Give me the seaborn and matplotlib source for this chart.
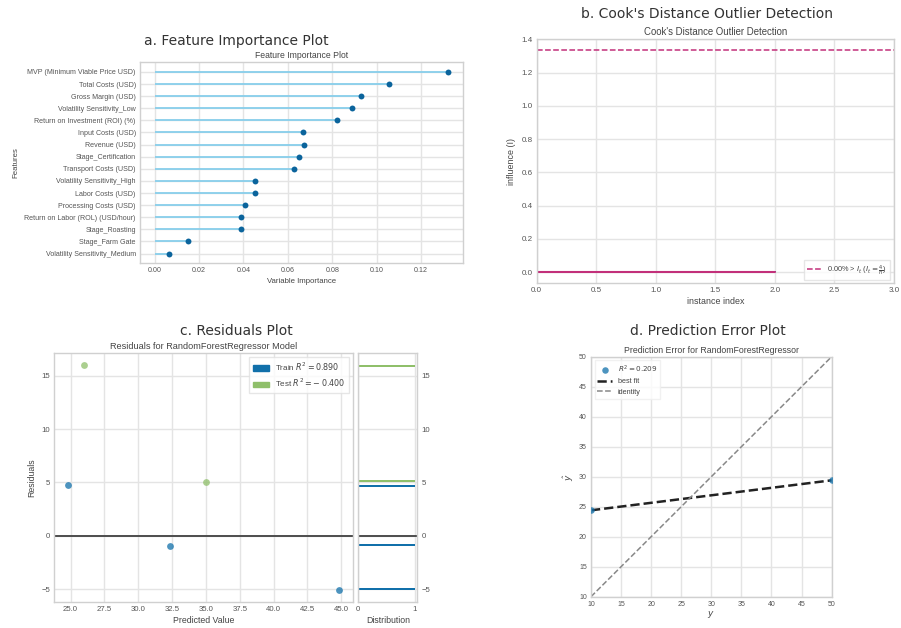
import numpy as np
import matplotlib
matplotlib.use("Agg")
import matplotlib.pyplot as plt
import matplotlib.patches as mpatches
import seaborn as sns

# ---- data -------------------------------------------------------------
features = [
    "MVP (Minimum Viable Price USD)", "Total Costs (USD)", "Gross Margin (USD)",
    "Volatility Sensitivity_Low", "Return on Investment (ROI) (%)", "Input Costs (USD)",
    "Revenue (USD)", "Stage_Certification", "Transport Costs (USD)",
    "Volatility Sensitivity_High", "Labor Costs (USD)", "Processing Costs (USD)",
    "Return on Labor (ROL) (USD/hour)", "Stage_Roasting", "Stage_Farm Gate",
    "Volatility Sensitivity_Medium",
]
importance = [0.1323, 0.1056, 0.0931, 0.0887, 0.0822, 0.0670, 0.0672, 0.0650,
              0.0626, 0.0454, 0.0454, 0.0409, 0.0388, 0.0388, 0.0151, 0.0063]

instance_index = [0, 1, 2]
cooks_distance = [0.0004, 0.0002, 0.0003]
influence_threshold = 4 / 3

train_pred = [24.80, 32.38, 44.85]
train_resid = [4.75, -0.94, -5.12]
test_pred = [25.98, 35.00]
test_resid = [16.03, 5.00]
train_r2 = 0.890
test_r2 = -0.400

y_true = [10.0, 50.0]
y_hat = [24.4, 29.4]
pe_r2 = 0.209

# ---- style ------------------------------------------------------------
sns.set_theme(style="whitegrid", rc={
    "axes.edgecolor": "#d0d0d0",
    "axes.linewidth": 1.0,
    "grid.color": "#e4e4e4",
    "grid.linewidth": 1.0,
    "text.color": "#444444",
    "axes.labelcolor": "#444444",
    "xtick.color": "#555555",
    "ytick.color": "#555555",
    "xtick.major.size": 0,
    "ytick.major.size": 0,
})
plt.rcParams["font.family"] = ["Liberation Sans", "DejaVu Sans"]
plt.rcParams["mathtext.fontset"] = "dejavusans"

BLUE = "#1170aa"
DOT_BLUE = "#0b649c"
GREEN = "#8fbf6a"
MAGENTA = "#c2307a"

fig = plt.figure(figsize=(9.01, 6.28), dpi=100)

def panel_title(x, y, s):
    fig.text(x, y, s, ha="center", va="center", fontsize=10,
             family="DejaVu Sans", color="#333333")

def r2_text(v):
    # spaced minus sign, as in the model report legends
    return "{:0.3f}".format(v).replace("-", r"-\:")

# ---- a. feature importance --------------------------------------------
ax = fig.add_axes([0.1554, 0.5812, 0.3585, 0.3201])
pos = np.arange(len(features))
ax.hlines(y=pos, xmin=0, xmax=importance, color="skyblue", lw=1.3, zorder=2)
sns.scatterplot(x=importance, y=pos, ax=ax, color=DOT_BLUE, s=18,
                linewidth=0, zorder=3)
ax.set_yticks(pos, features)
ax.set_ylim(len(features) - 0.22, -0.82)
ax.set_xlim(-0.0066, 0.1389)
ax.set_xticks(np.arange(0, 0.13, 0.02))
ax.xaxis.set_major_formatter(matplotlib.ticker.FormatStrFormatter("%.2f"))
ax.tick_params(labelsize=5.1, pad=3)
ax.set_xlabel("Variable Importance", fontsize=5.6, labelpad=3)
ax.set_ylabel("Features", fontsize=5.6)
ax.set_title("Feature Importance Plot", fontsize=6.2, pad=3)
panel_title(0.262, 0.934, "a. Feature Importance Plot")

# ---- b. Cook's distance -----------------------------------------------
bx = fig.add_axes([0.5957, 0.5489, 0.3965, 0.3885])
markers, stems, base = bx.stem(instance_index, cooks_distance, linefmt="C0-",
                               markerfmt=",", basefmt="-")
base.set_color(MAGENTA)
base.set_linewidth(1.5)
pct = 100 * np.mean(np.array(cooks_distance) > influence_threshold)
bx.axhline(influence_threshold, ls="--", color=MAGENTA, lw=1.1,
           label=r"{:0.2f}% > $I_t$ ($I_t = \frac {{4}} {{n}}$)".format(pct))
bx.set_xlim(0, len(instance_index))
bx.set_ylim(-0.0667, 1.4)
bx.set_xticks(np.arange(0, 3.01, 0.5))
bx.set_yticks(np.arange(0, 1.41, 0.2))
bx.tick_params(labelsize=5.8, pad=3)
bx.set_xlabel("instance index", fontsize=6.4, labelpad=2)
bx.set_ylabel("influence (I)", fontsize=6.4)
bx.set_title("Cook's Distance Outlier Detection", fontsize=6.9, pad=3)
bx.legend(loc="lower right", fontsize=5.3, frameon=True, framealpha=0.8,
          edgecolor="#e0e0e0", fancybox=False)
panel_title(0.785, 0.978, "b. Cook's Distance Outlier Detection")

# ---- c. residuals -----------------------------------------------------
cx = fig.add_axes([0.0603, 0.0419, 0.3312, 0.3955])
hx = fig.add_axes([0.3977, 0.0419, 0.0655, 0.3955], sharey=cx)
sns.scatterplot(x=train_pred, y=train_resid, ax=cx, color=BLUE, alpha=0.75,
                s=24, linewidth=0, zorder=3)
sns.scatterplot(x=test_pred, y=test_resid, ax=cx, color=GREEN, alpha=0.75,
                s=24, linewidth=0, zorder=3)
cx.axhline(0, color="#4d4d4d", lw=1.4, zorder=2)
cx.set_xlim(23.8, 45.85)
cx.set_ylim(-6.18, 17.1)
cx.set_xticks(np.arange(25, 45.1, 2.5))
cx.xaxis.set_major_formatter(matplotlib.ticker.FormatStrFormatter("%.1f"))
cx.set_yticks([-5, 0, 5, 10, 15])
cx.tick_params(labelsize=5.6, pad=3)
cx.set_xlabel("Predicted Value", fontsize=6.3, labelpad=2)
cx.set_ylabel("Residuals", fontsize=6.3)
cx.set_title("Residuals for RandomForestRegressor Model", fontsize=6.6, pad=3)
handles = [
    mpatches.Patch(color=BLUE, label=r"Train $R^2 = {}$".format(r2_text(train_r2))),
    mpatches.Patch(color=GREEN, label=r"Test $R^2 = {}$".format(r2_text(test_r2))),
]
cx.legend(handles=handles, loc="upper right", fontsize=5.8, frameon=True,
          framealpha=0.8, edgecolor="#e0e0e0", fancybox=False)

sns.histplot(y=train_resid, bins=50, ax=hx, color=BLUE, alpha=1, linewidth=0)
sns.histplot(y=test_resid, bins=50, ax=hx, color=GREEN, alpha=1, linewidth=0)
hx.axhline(0, color="#4d4d4d", lw=1.4)
hx.set_xticks([0, 1])
hx.tick_params(labelsize=5.6, pad=3, labelleft=False, labelright=True)
hx.set_xlabel("Distribution", fontsize=6.3, labelpad=2)
hx.set_ylabel("")
panel_title(0.262, 0.473, "c. Residuals Plot")

# ---- d. prediction error ----------------------------------------------
dx = fig.add_axes([0.6559, 0.0498, 0.2671, 0.3822])
sns.scatterplot(x=y_true, y=y_hat, ax=dx, color=BLUE, alpha=0.75, s=22,
                linewidth=0, zorder=3, label=r"$R^2 = {:0.3f}$".format(pe_r2))
slope, intercept = np.polyfit(y_true, y_hat, 1)
fit_x = np.array([10.0, 50.0])
sns.lineplot(x=fit_x, y=slope * fit_x + intercept, ax=dx, color="#222222",
             lw=1.8, ls="--", label="best fit", zorder=2)
sns.lineplot(x=fit_x, y=fit_x, ax=dx, color="#888888", lw=1.1, ls="--",
             label="identity", zorder=2)
dx.set_xlim(10, 50)
dx.set_ylim(10, 50)
dx.set_xticks(np.arange(10, 51, 5))
dx.set_yticks(np.arange(10, 51, 5))
dx.tick_params(labelsize=5.0, pad=3)
dx.set_xlabel(r"$y$", fontsize=6.5, labelpad=1)
dx.set_ylabel(r"$\hat{y}$", fontsize=6.5, labelpad=2)
dx.set_title("Prediction Error for RandomForestRegressor", fontsize=6.3, pad=3)
dx.legend(loc="upper left", fontsize=5.2, frameon=True, framealpha=0.8,
          edgecolor="#eeeeee", fancybox=False)
panel_title(0.786, 0.473, "d. Prediction Error Plot")

fig.savefig("out.png", dpi=100)
